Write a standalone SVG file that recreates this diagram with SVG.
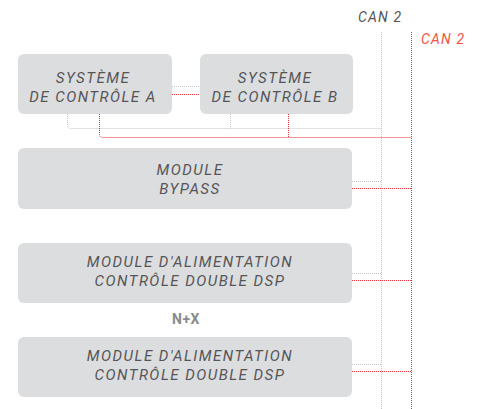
<svg xmlns="http://www.w3.org/2000/svg" width="478" height="409" viewBox="0 0 478 409">
  <style>
    .box { fill: #dcdddf; }
    .lbl { font-family: Roboto, "Liberation Sans", sans-serif; font-style: italic; font-size: 15px; letter-spacing: 1.5px; fill: #555558; text-anchor: middle; }
    .can { font-family: Roboto, "Liberation Sans", sans-serif; font-style: italic; font-size: 14px; letter-spacing: 1.2px; }
    .nx { font-family: Roboto, "Liberation Sans", sans-serif; font-weight: bold; font-size: 14px; fill: #8a8a8c; text-anchor: middle; letter-spacing: 0.5px; }
    .g { fill: none; stroke: #c4c4c6; stroke-width: 1; stroke-dasharray: 1 1; }
    .r { fill: none; stroke: #e62e36; stroke-width: 1; stroke-dasharray: 1 1; }
  </style>

  <!-- bus labels -->
  <text class="can" x="358" y="22" fill="#555558">CAN 2</text>
  <text class="can" x="421" y="44" fill="#f05548">CAN 2</text>

  <!-- connectors -->
  <g id="connectors">
    <!-- bus trunks -->
    <path class="g" d="M381.5 32 V409"/>
    <path class="r" d="M411.5 32 V409"/>
    <!-- A to B link -->
    <path class="g" d="M172 86.5 H200"/>
    <path class="r" d="M172 94.5 H200"/>
    <!-- control systems to buses -->
    <path class="g" d="M67.5 114 V125 Q67.5 128.5 71 128.5 H381.5"/>
    <path class="g" d="M230.5 114 V128.5"/>
    <path class="r" d="M99.5 114 V134 Q99.5 137.5 103 137.5 H411.5"/>
    <path class="r" d="M288.5 114 V137.5"/>
    <!-- bypass -->
    <path class="g" d="M352 181.5 H381.5"/>
    <path class="r" d="M352 188.5 H411.5"/>
    <!-- power module 1 -->
    <path class="g" d="M352 273.5 H381.5"/>
    <path class="r" d="M352 280.5 H411.5"/>
    <!-- power module 2 -->
    <path class="g" d="M352 364.5 H381.5"/>
    <path class="r" d="M352 371.5 H411.5"/>
  </g>

  <g id="sys-a">
    <rect class="box" x="18" y="54" width="154" height="60" rx="6"/>
    <text class="lbl" x="93" y="82.5">SYSTÈME</text>
    <text class="lbl" x="93" y="101.5">DE CONTRÔLE A</text>
  </g>

  <g id="sys-b">
    <rect class="box" x="200" y="54" width="153" height="60" rx="6"/>
    <text class="lbl" x="275" y="82.5">SYSTÈME</text>
    <text class="lbl" x="275" y="101.5">DE CONTRÔLE B</text>
  </g>

  <g id="bypass">
    <rect class="box" x="18" y="148" width="334" height="61" rx="6"/>
    <text class="lbl" x="190" y="175">MODULE</text>
    <text class="lbl" x="190" y="194">BYPASS</text>
  </g>

  <g id="power-1">
    <rect class="box" x="18" y="243" width="334" height="60" rx="6"/>
    <text class="lbl" x="190" y="267">MODULE D'ALIMENTATION</text>
    <text class="lbl" x="190" y="285.5">CONTRÔLE DOUBLE DSP</text>
  </g>

  <text class="nx" x="186" y="324">N+X</text>

  <g id="power-2">
    <rect class="box" x="18" y="337" width="334" height="60" rx="6"/>
    <text class="lbl" x="190" y="361">MODULE D'ALIMENTATION</text>
    <text class="lbl" x="190" y="379.5">CONTRÔLE DOUBLE DSP</text>
  </g>
</svg>
